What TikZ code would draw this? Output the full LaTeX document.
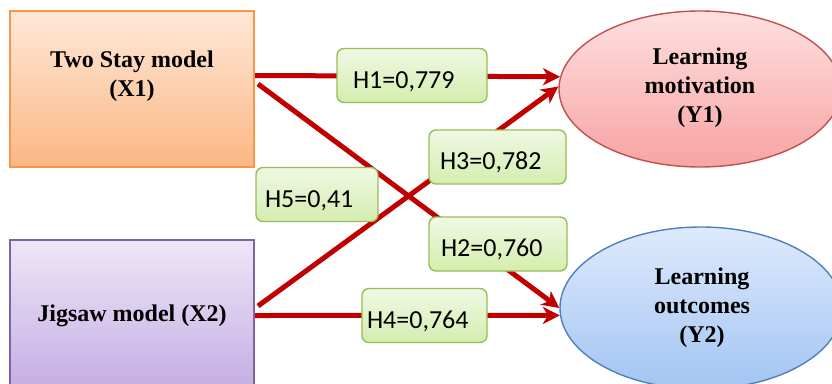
\documentclass[tikz,border=0pt]{standalone}
\usepackage{fontspec}
\setmainfont{Liberation Serif}
\newfontfamily\labelfont{Carlito}
\usetikzlibrary{arrows.meta,shapes.geometric}
\pgfdeclarelayer{background}
\pgfsetlayers{background,main}

\definecolor{pathred}{HTML}{C00000}
\definecolor{orangeedge}{HTML}{F79646}
\definecolor{orangetop}{HTML}{FEE8D8}
\definecolor{orangebot}{HTML}{FBB784}
\definecolor{violetedge}{HTML}{8064A2}
\definecolor{violettop}{HTML}{EDE6F8}
\definecolor{violetbot}{HTML}{C4ADE3}
\definecolor{rededge}{HTML}{C0504D}
\definecolor{redtop}{HTML}{FEE0E0}
\definecolor{redbot}{HTML}{F8A3A3}
\definecolor{blueedge}{HTML}{4F81BD}
\definecolor{bluetop}{HTML}{DEEAFC}
\definecolor{bluebot}{HTML}{A3C4F2}
\definecolor{greenedge}{HTML}{9BBB59}
\definecolor{greentop}{HTML}{EFF9E4}
\definecolor{greenbot}{HTML}{D4EDAE}

\tikzset{
  varbox/.style={rectangle, draw=#1edge, line width=1.6pt,
    top color=#1top, bottom color=#1bot, inner sep=0pt},
  varoval/.style={ellipse, draw=#1edge, line width=1.4pt,
    top color=#1top, bottom color=#1bot, inner sep=0pt,
    minimum width=282pt},
  vartext/.style={font=\bfseries\fontsize{24}{29}\selectfont, align=center},
  % #1 = left padding, #2 = text width
  coef/.style 2 args={rectangle, rounded corners=7pt, draw=greenedge, line width=1.4pt,
    top color=greentop, bottom color=greenbot, inner xsep=#1, inner ysep=0pt,
    minimum height=54pt, text height=25pt, text depth=0pt, text width=#2,
    font=\labelfont\fontsize{26}{30}\selectfont},
  path/.style={draw=pathred, line width=5pt,
    -{Stealth[length=17pt,width=17pt,inset=5pt]}},
}

\begin{document}
\begin{tikzpicture}[x=1pt,y=-1pt]
\useasboundingbox (0,0) rectangle (832,383);

% independent variables
\node[varbox=orange, minimum width=244pt, minimum height=156pt] (x1) at (132,89) {};
\node[vartext] (x1text) at (132,76) {Two Stay model\\(X1)};
\node[varbox=violet, minimum width=244pt, minimum height=152pt] (x2) at (132,316)
  {\bfseries\fontsize{24}{29}\selectfont Jigsaw model (X2)};

% dependent variables
\node[varoval=red, minimum height=156pt] (y1) at (700,89) {};
\node[vartext] (y1text) at (700,88) {Learning\\motivation\\(Y1)};
\node[varoval=blue, minimum height=162pt] (y2) at (701,308) {};
\node[vartext] (y2text) at (702,308) {Learning\\outcomes\\(Y2)};

% path coefficients
\node[coef={16pt}{118pt}] (h1) at (412,75.5) {H1=0,779};
\node[coef={11pt}{115pt}] (h3) at (497.5,157) {H3=0,782};
\node[coef={9pt}{104pt}]  (h5) at (317,194.5) {H5=0,41};
\node[coef={12pt}{114pt}] (h2) at (498,244) {H2=0,760};
\node[coef={5pt}{115pt}]  (h4) at (424.5,315.5) {H4=0,764};

% connector end points
\coordinate (s12) at (258,84);
\coordinate (s21) at (258,306);

\begin{pgfonlayer}{background}
\draw[path] (x1.east |- h1) -- (y1.175);
\draw[path] (s12) -- (y2.west);
\draw[path] (s21) -- (y1.179);
\draw[path] (x2.east |- h4) -- (y2.183);
\end{pgfonlayer}
\end{tikzpicture}
\end{document}
